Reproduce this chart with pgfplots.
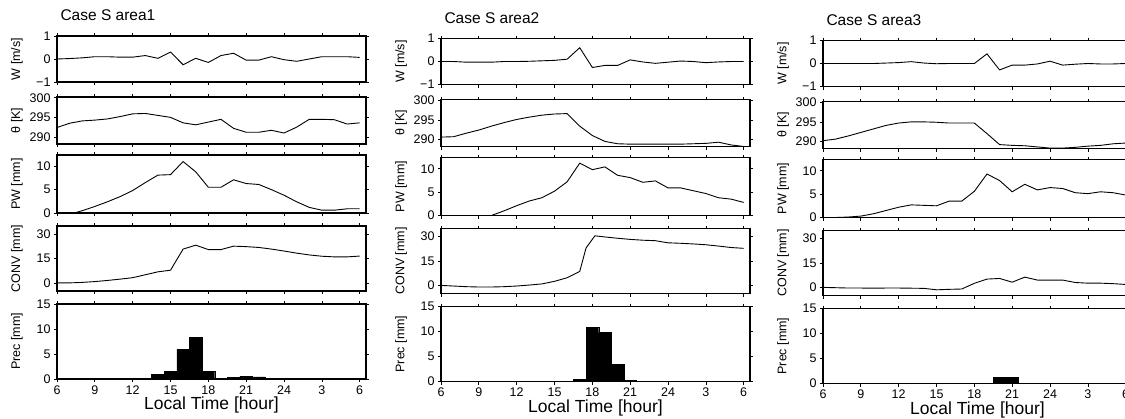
\documentclass[border=0pt]{standalone}
\usepackage{fontspec}
\setmainfont{Liberation Sans}
\usepackage{pgfplots}
\pgfplotsset{compat=1.18}

\pgfplotsset{
  panel/.style={
    scale only axis, width=309pt,
    xmin=6, xmax=30.5,
    xtick={6,9,12,15,18,21,24,27,30},
    xticklabels={},
    tick align=outside,
    major tick length=3pt,
    tick style={black, line width=0.7pt},
    axis line style={line width=1.3pt},
    tick label style={font=\fontsize{12.5}{12.5}\selectfont, /pgf/number format/assume math mode=true},
    ylabel style={font=\fontsize{12.5}{12.5}\selectfont, at={(axis description cs:-0.1294,0.5)}, anchor=center},
    cycle list={{black, line width=0.9pt, mark=none}},
    clip=true,
  },
  pW/.style={panel, height=46pt, ymin=-1, ymax=1, ytick={-1,0,1}, yticklabels={−1,0,1}, ylabel={W [m/s]},
    title style={at={(axis description cs:0,1.2065)}, anchor=base west, font=\fontsize{15.5}{15.5}\selectfont}},
  pT/.style={panel, height=47pt, ymin=288.2, ymax=300.2, ytick={290,295,300}, yticklabels={290,295,300}, ylabel={θ [K]}},
  pPW/.style={panel, height=58pt, ymin=0, ymax=12.4, ytick={0,5,10}, yticklabels={0,5,10}, ylabel={PW [mm]}},
  pC/.style={panel, height=65pt, ymin=-5, ymax=35, ytick={0,15,30}, yticklabels={0,15,30}, ylabel={CONV [mm]}},
  pP/.style={panel, height=75pt, ymin=0, ymax=15, ytick={0,5,10,15}, yticklabels={0,5,10,15}, ylabel={Prec [mm]},
    xticklabels={6,9,12,15,18,21,24,3,6}, xlabel={Local Time [hour]},
    xlabel style={font=\fontsize{17.5}{17.5}\selectfont, at={(axis description cs:0.5,-0.347)}, anchor=center}},
  line/.style={black, line width=0.9pt, mark=none},
  bars/.style={ybar, bar width=1, bar shift=0pt, fill=black, draw=black, line width=0.3pt, mark=none},
}

\begin{document}
\begin{tikzpicture}
\useasboundingbox (0,0) rectangle (1125pt,-418pt);
\clip (0,0) rectangle (1125pt,-418pt);

% ---------------- Column 1 ----------------
\begin{axis}[pW, title={Case S area1}, at={(57pt,-36pt)}, anchor=north west]
\addplot[line] coordinates {(6,0)(7,0.02)(8,0.05)(9,0.1)(10,0.1)(11,0.08)(12,0.08)(13,0.15)(14,0.03)(15,0.3)(16,-0.25)(17,0.03)(18,-0.15)(19,0.15)(20,0.25)(21,-0.05)(22,-0.05)(23,0.1)(24,-0.03)(25,-0.1)(26,0)(27,0.1)(28,0.1)(29,0.1)(30,0.07)};
\end{axis}
\begin{axis}[pT, at={(57pt,-97pt)}, anchor=north west]
\addplot[line] coordinates {(6,292.4)(7,293.5)(8,294.1)(9,294.3)(10,294.6)(11,295.2)(12,295.9)(13,296.0)(14,295.5)(15,295.0)(16,293.6)(17,293.1)(18,293.8)(19,294.5)(20,292.2)(21,291.2)(22,291.2)(23,291.7)(24,291.0)(25,292.5)(26,294.5)(27,294.5)(28,294.4)(29,293.3)(30,293.6)};
\end{axis}
\begin{axis}[pPW, at={(57pt,-155pt)}, anchor=north west]
\addplot[line] coordinates {(6,-0.5)(7,-0.3)(8,0.5)(9,1.4)(10,2.4)(11,3.5)(12,4.8)(13,6.5)(14,8.1)(15,8.2)(16,11.0)(17,8.8)(18,5.5)(19,5.5)(20,7.1)(21,6.3)(22,6.1)(23,5.0)(24,3.8)(25,2.4)(26,1.2)(27,0.6)(28,0.6)(29,0.9)(30,0.9)};
\end{axis}
\begin{axis}[pC, at={(57pt,-226pt)}, anchor=north west]
\addplot[line] coordinates {(6,0)(7,0)(8,0.3)(9,0.8)(10,1.5)(11,2.3)(12,3.2)(13,5.0)(14,6.8)(15,7.8)(16,20.8)(17,23.2)(18,20.5)(19,20.5)(20,22.6)(21,22.3)(22,21.8)(23,20.8)(24,19.6)(25,18.3)(26,17.2)(27,16.4)(28,16.0)(29,16.0)(30,16.5)};
\end{axis}
\begin{axis}[pP, at={(57pt,-304pt)}, anchor=north west]
\addplot[bars] coordinates {(12,0.05)(13,0.2)(14,1.0)(15,1.5)(16,6.0)(17,8.4)(18,1.5)(20,0.35)(21,0.6)(22,0.45)};
\end{axis}

% ---------------- Column 2 ----------------
\begin{axis}[pW, title={Case S area2}, at={(441pt,-38.5pt)}, anchor=north west]
\addplot[line] coordinates {(6,0)(7,0)(8,-0.03)(9,-0.03)(10,-0.03)(11,0)(12,0)(13,0.01)(14,0.03)(15,0.05)(16,0.1)(17,0.6)(18,-0.26)(19,-0.17)(20,-0.17)(21,0.07)(22,-0.02)(23,-0.08)(24,-0.03)(25,0.02)(26,0)(27,-0.05)(28,-0.02)(29,0)(30,0)};
\end{axis}
\begin{axis}[pT, at={(441pt,-99.5pt)}, anchor=north west]
\addplot[line] coordinates {(6,290.6)(7,290.7)(8,291.6)(9,292.4)(10,293.4)(11,294.3)(12,295.1)(13,295.7)(14,296.2)(15,296.5)(16,296.6)(17,293.4)(18,291.0)(19,289.5)(20,288.9)(21,288.8)(22,288.8)(23,288.8)(24,288.8)(25,288.8)(26,288.9)(27,289.0)(28,289.3)(29,288.6)(30,288.2)};
\end{axis}
\begin{axis}[pPW, at={(441pt,-157.5pt)}, anchor=north west]
\addplot[line] coordinates {(6,-1)(7,-1)(8,-1)(9,-1)(10,0)(11,1.0)(12,2.1)(13,3.1)(14,3.8)(15,5.2)(16,7.2)(17,11.2)(18,9.8)(19,10.4)(20,8.6)(21,8.1)(22,7.1)(23,7.4)(24,5.9)(25,5.9)(26,5.3)(27,4.7)(28,3.8)(29,3.5)(30,2.8)};
\end{axis}
\begin{axis}[pC, at={(441pt,-228.5pt)}, anchor=north west]
\addplot[line] coordinates {(6,0)(7,-0.4)(8,-0.8)(9,-1)(10,-1)(11,-0.8)(12,-0.4)(13,0.2)(14,0.9)(15,2.5)(16,4.7)(17,8.6)(17.5,23)(18.2,30.5)(19,29.8)(20,29.0)(21,28.3)(22,27.8)(23,27.5)(24,26.2)(25,25.9)(26,25.5)(27,25.0)(28,24.2)(29,23.3)(30,22.8)};
\end{axis}
\begin{axis}[pP, at={(441pt,-306.5pt)}, anchor=north west]
\addplot[bars] coordinates {(17,0.5)(18,10.8)(19,9.8)(20,3.4)(21,0.3)};
\end{axis}

% ---------------- Column 3 ----------------
\begin{axis}[pW, title={Case S area3}, at={(823pt,-40.5pt)}, anchor=north west]
\addplot[line] coordinates {(6,0)(7,0)(8,0)(9,0)(10,0)(11,0.02)(12,0.04)(13,0.08)(14,0.02)(15,-0.01)(16,0)(17,0)(18,0)(19,0.42)(20,-0.28)(21,-0.07)(22,-0.07)(23,-0.02)(24,0.1)(25,-0.07)(26,-0.03)(27,0)(28,-0.02)(29,-0.02)(30,0)};
\end{axis}
\begin{axis}[pT, at={(823pt,-101.5pt)}, anchor=north west]
\addplot[line] coordinates {(6,290.2)(7,290.6)(8,291.4)(9,292.3)(10,293.2)(11,294.1)(12,294.7)(13,295.0)(14,295.0)(15,294.9)(16,294.7)(17,294.7)(18,294.7)(19,292.0)(20,289.2)(21,289.0)(22,288.9)(23,288.6)(24,288.3)(25,288.3)(26,288.5)(27,288.8)(28,289.0)(29,289.4)(30,289.6)};
\end{axis}
\begin{axis}[pPW, at={(823pt,-159.5pt)}, anchor=north west]
\addplot[line] coordinates {(6,-0.3)(7,0)(8,0.1)(9,0.3)(10,0.8)(11,1.5)(12,2.2)(13,2.7)(14,2.6)(15,2.5)(16,3.5)(17,3.5)(18,5.6)(19,9.3)(20,7.9)(21,5.5)(22,7.1)(23,5.9)(24,6.4)(25,6.2)(26,5.3)(27,5.1)(28,5.5)(29,5.3)(30,4.8)};
\end{axis}
\begin{axis}[pC, at={(823pt,-230.5pt)}, anchor=north west]
\addplot[line] coordinates {(6,0)(7,-0.2)(8,-0.4)(9,-0.4)(10,-0.5)(11,-0.4)(12,-0.4)(13,-0.5)(14,-0.6)(15,-1.5)(16,-1.2)(17,-1)(18,2.5)(19,5.1)(20,5.5)(21,3.2)(22,6.3)(23,4.5)(24,4.5)(25,4.5)(26,3.0)(27,2.6)(28,2.6)(29,2.3)(30,1.8)};
\end{axis}
\begin{axis}[pP, at={(823pt,-308.5pt)}, anchor=north west]
\addplot[bars] coordinates {(20,1.3)(21,1.3)};
\end{axis}
\end{tikzpicture}
\end{document}
